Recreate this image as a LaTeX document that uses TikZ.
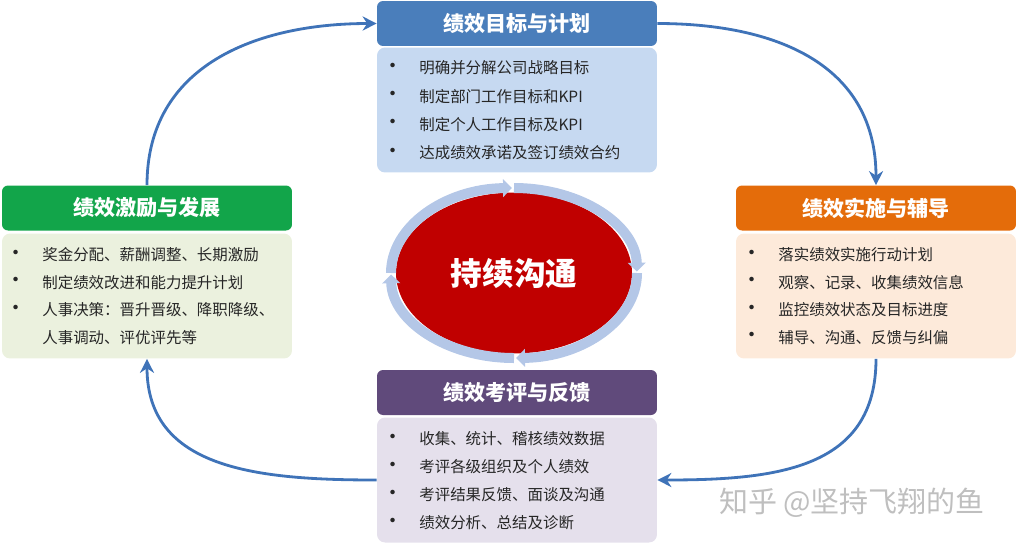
\documentclass[tikz,border=0pt]{standalone}
\usepackage{fontspec}
\setmainfont{Noto Sans CJK SC}
\usetikzlibrary{arrows.meta,shapes.geometric,calc}

\definecolor{planblue}{HTML}{4A7EBB}
\definecolor{planbg}{HTML}{C6D9F1}
\definecolor{dogreen}{HTML}{12A54A}
\definecolor{dobg}{HTML}{EBF1DE}
\definecolor{runorange}{HTML}{E46C0A}
\definecolor{runbg}{HTML}{FDEADA}
\definecolor{checkpurple}{HTML}{604A7B}
\definecolor{checkbg}{HTML}{E5E0EC}
\definecolor{cyclered}{HTML}{C00000}
\definecolor{ringblue}{HTML}{B4C7E7}
\definecolor{flowblue}{HTML}{3F73B8}

\tikzset{
	head/.style={rectangle, rounded corners=0.12cm, minimum width=5.6cm, minimum height=0.9cm,
		text=white, font=\bfseries\fontsize{12}{14}\selectfont, inner sep=0pt},
	body/.style={rectangle, rounded corners=0.16cm, minimum width=5.6cm, minimum height=2.5cm, inner sep=0pt},
	item/.style={anchor=west, inner sep=0pt, text=black!85, font=\fontsize{8.8}{11}\selectfont},
	dot/.style={inner sep=0pt, text=black!85, font=\fontsize{12}{12}\selectfont},
	flow/.style={draw=flowblue, line width=1.6pt, -{Stealth[length=8pt,width=8pt]}},
	ring/.style={draw=ringblue, line width=0.2cm, -{Triangle[length=5pt,width=10pt]}}
}

\begin{document}
\begin{tikzpicture}[x=0.02cm, y=-0.02cm]
	\useasboundingbox (0,0) rectangle (1016,545);

	% four boxes
	\node[head, fill=planblue] (plan) at (517,23.5) {绩效目标与计划};
	\node[body, fill=planbg] (planbody) at (517,110) {};
	\node[head, fill=dogreen, minimum width=5.8cm] (inspire) at (147,208) {绩效激励与发展};
	\node[body, fill=dobg, minimum width=5.8cm] (inspirebody) at (147,296) {};
	\node[head, fill=runorange] (execute) at (876,208) {绩效实施与辅导};
	\node[body, fill=runbg] (executebody) at (876,296) {};
	\node[head, fill=checkpurple] (review) at (517,392.5) {绩效考评与反馈};
	\node[body, fill=checkbg] (reviewbody) at (517,480) {};

	% bullet lists
	\foreach \txt [count=\i from 0] in {明确并分解公司战略目标, 制定部门工作目标和KPI, 制定个人工作目标及KPI, 达成绩效承诺及签订绩效合约} {
		\node[dot] (plandot-\i) at (393,{68+28.3*\i}) {•};
		\node[item] (planitem-\i) at (419,{68+28.3*\i}) {\txt};
	}
	\foreach \txt [count=\i from 0] in {奖金分配、薪酬调整、长期激励, 制定绩效改进和能力提升计划, 人事决策：晋升晋级、降职降级、} {
		\node[dot] (inspiredot-\i) at (16,{255+27.5*\i}) {•};
		\node[item] (inspireitem-\i) at (42,{255+27.5*\i}) {\txt};
	}
	\node[item] (inspireitem-3) at (42,337.5) {人事调动、评优评先等};
	\foreach \txt [count=\i from 0] in {落实绩效实施行动计划, 观察、记录、收集绩效信息, 监控绩效状态及目标进度, 辅导、沟通、反馈与纠偏} {
		\node[dot] (executedot-\i) at (752,{255+27.5*\i}) {•};
		\node[item] (executeitem-\i) at (778,{255+27.5*\i}) {\txt};
	}
	\foreach \txt [count=\i from 0] in {收集、统计、稽核绩效数据, 考评各级组织及个人绩效, 考评结果反馈、面谈及沟通, 绩效分析、总结及诊断} {
		\node[dot] (reviewdot-\i) at (393,{439+28*\i}) {•};
		\node[item] (reviewitem-\i) at (419,{439+28*\i}) {\txt};
	}

	% centre
	\node[ellipse, fill=cyclered, minimum width=4.72cm, minimum height=3.22cm, inner sep=0pt,
		text=white, font=\bfseries\fontsize{18}{20}\selectfont] (talk) at (514,273) {持续沟通};
	\foreach \a in {0,90,180,270}
		\draw[ring] ($(514,273)+({123*cos(\a)},{85*sin(\a)})$)
			arc[start angle=\a, end angle=\a+89, x radius=123, y radius=85];

	% cycle
	\draw[flow] (inspire.north) .. controls +(0,-120) and +(-120,0) .. (plan.west);
	\draw[flow] (plan.east) .. controls +(120,0) and +(0,-120) .. (execute.north);
	\draw[flow] (executebody.south) .. controls +(0,110) and +(120,0) .. (reviewbody.east);
	\draw[flow] (reviewbody.west) .. controls +(-120,0) and +(0,110) .. (inspirebody.south);

	\node[text=black!25, font=\fontsize{16.5}{18}\selectfont] (watermark) at (852,503) {知乎 @坚持飞翔的鱼};
\end{tikzpicture}
\end{document}
